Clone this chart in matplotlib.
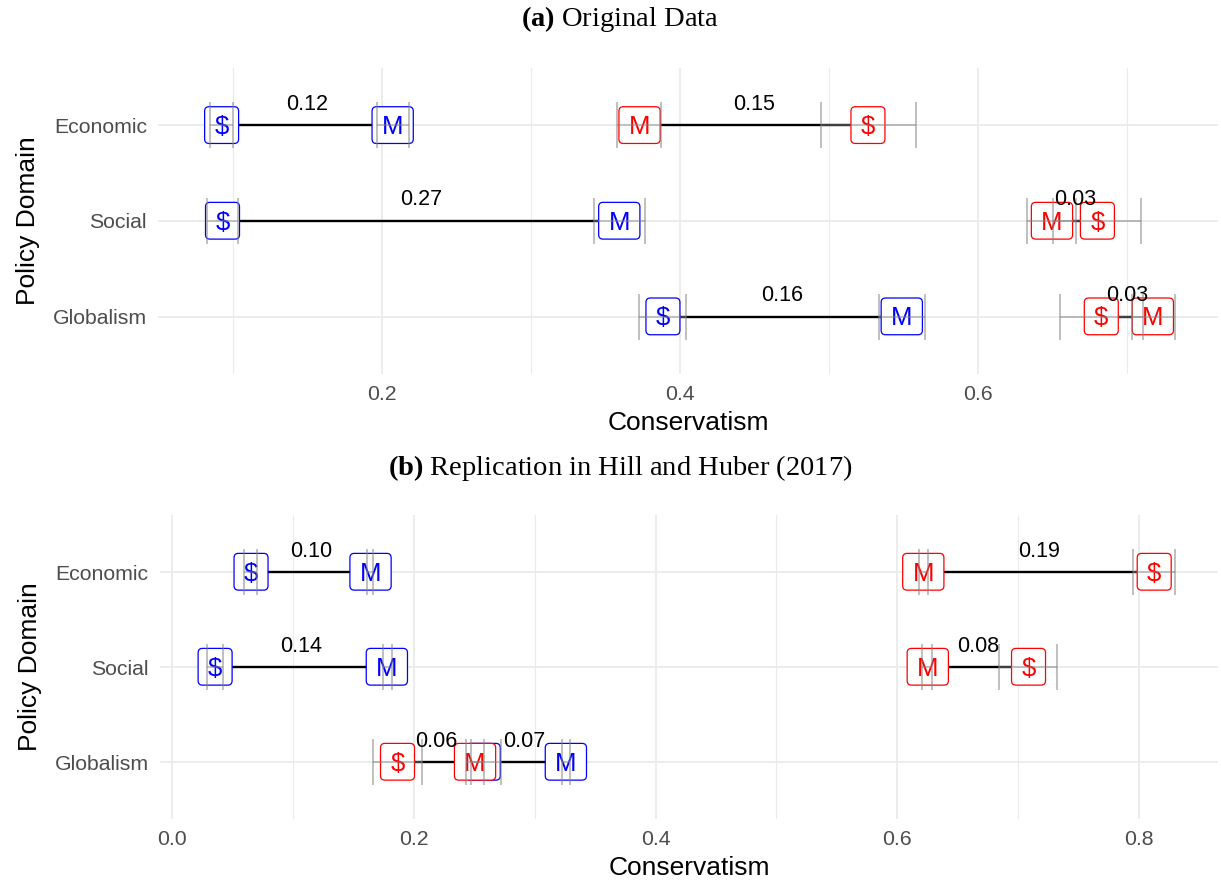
import matplotlib
matplotlib.use("Agg")
import matplotlib.pyplot as plt
from matplotlib.patches import BoxStyle
from matplotlib.transforms import offset_copy
from matplotlib.ticker import FixedLocator, FormatStrFormatter

plt.rcParams['font.family'] = ['Liberation Sans', 'DejaVu Sans']
plt.rcParams['mathtext.fontset'] = 'custom'
plt.rcParams['mathtext.rm'] = 'Liberation Serif'
plt.rcParams['mathtext.bf'] = 'Liberation Serif:bold'

domains = ["Economic", "Social", "Globalism"]

# ---- Panel (a): Original Data ----
a_blue_donor = [0.0924, 0.0930, 0.3886]
a_blue_donor_lo = [0.0846, 0.0823, 0.3728]
a_blue_donor_hi = [0.1002, 0.1035, 0.4041]
a_blue_mass = [0.2072, 0.3593, 0.5489]
a_blue_mass_lo = [0.1969, 0.3425, 0.5338]
a_blue_mass_hi = [0.2181, 0.3765, 0.5646]
a_red_mass = [0.3729, 0.6497, 0.7174]
a_red_mass_lo = [0.3579, 0.6332, 0.7034]
a_red_mass_hi = [0.3874, 0.6661, 0.7324]
a_red_donor = [0.5262, 0.6802, 0.6828]
a_red_donor_lo = [0.4945, 0.6501, 0.6550]
a_red_donor_hi = [0.5582, 0.7097, 0.7105]
a_blue_diff = ["0.12", "0.27", "0.16"]
a_red_diff = ["0.15", "0.03", "0.03"]

# ---- Panel (b): Replication in Hill and Huber (2017) ----
b_blue_donor = [0.0656, 0.0359, 0.2576]
b_blue_donor_lo = [0.0600, 0.0289, 0.2473]
b_blue_donor_hi = [0.0703, 0.0427, 0.2723]
b_blue_mass = [0.1644, 0.1779, 0.3259]
b_blue_mass_lo = [0.1617, 0.1744, 0.3224]
b_blue_mass_hi = [0.1667, 0.1819, 0.3293]
b_red_mass = [0.6214, 0.6251, 0.2508]
b_red_mass_lo = [0.6179, 0.6206, 0.2433]
b_red_mass_hi = [0.6251, 0.6289, 0.2583]
b_red_donor = [0.8123, 0.7084, 0.1867]
b_red_donor_lo = [0.7945, 0.6843, 0.1667]
b_red_donor_hi = [0.8295, 0.7317, 0.2067]
b_blue_diff = ["0.10", "0.14", "0.07"]
b_red_diff = ["0.19", "0.08", "0.06"]

a_major = [0.2, 0.4, 0.6]
a_minor = [0.1, 0.3, 0.5, 0.7]
b_major = [0.0, 0.2, 0.4, 0.6, 0.8]
b_minor = [0.1, 0.3, 0.5, 0.7]

BLUE = "#0000FF"
RED = "#FF0000"
LABEL_FS = 18.5
_round = BoxStyle.Round(pad=0, rounding_size=0.17)


def label_box(x0, y0, width, height, mutation_size):
    m = mutation_size
    px = 0.384 * m
    bottom = y0 - 0.166 * m
    top = y0 + height + 0.33 * m
    return _round(x0 - px, bottom, width + 2 * px, top - bottom, m)


def draw_panel(ax, fig, series, pairs, xlim, major, minor):
    ypos = [3 - i for i in range(len(domains))]
    # connecting segments
    for (s1, s2, diffs) in pairs:
        for i, y in enumerate(ypos):
            ax.plot([s1[2][i], s2[2][i]], [y, y], color="black", lw=1.7,
                    zorder=2, solid_capstyle="butt")
    # labels
    trans = offset_copy(ax.transData, fig=fig, y=-0.344 * LABEL_FS, units="points")
    for k, (ch, col, vals, lo, hi) in enumerate(series):
        for i, y in enumerate(ypos):
            ax.text(vals[i], y, ch, color=col, fontsize=LABEL_FS, ha="center",
                    va="baseline", transform=trans, zorder=3 + 0.1 * k,
                    bbox=dict(boxstyle=label_box, fc="white", ec=col, lw=0.9))
    # error bars
    for (ch, col, vals, lo, hi) in series:
        ax.hlines(ypos, lo, hi, color="grey", alpha=0.5, lw=1.4, zorder=4)
        ax.vlines(lo, [y - 0.24 for y in ypos], [y + 0.24 for y in ypos],
                  color="grey", alpha=0.5, lw=1.4, zorder=4)
        ax.vlines(hi, [y - 0.24 for y in ypos], [y + 0.24 for y in ypos],
                  color="grey", alpha=0.5, lw=1.4, zorder=4)
    # difference labels
    for (s1, s2, diffs) in pairs:
        for i, y in enumerate(ypos):
            ax.text((s1[2][i] + s2[2][i]) / 2, y + 0.22, diffs[i], fontsize=15.5,
                    ha="center", va="center", color="black", zorder=5)
    ax.set_xlim(*xlim)
    ax.set_ylim(0.4, 3.6)
    ax.set_yticks(ypos)
    ax.set_yticklabels(domains)
    ax.xaxis.set_major_locator(FixedLocator(major))
    ax.xaxis.set_minor_locator(FixedLocator(minor))
    ax.xaxis.set_major_formatter(FormatStrFormatter("%.1f"))
    ax.grid(True, which="major", color="#ebebeb", lw=1.3, zorder=0)
    ax.grid(True, which="minor", axis="x", color="#ebebeb", lw=0.8, zorder=0)
    ax.set_axisbelow(True)
    for sp in ax.spines.values():
        sp.set_visible(False)
    ax.tick_params(which="both", length=0, labelsize=15.3, labelcolor="#4d4d4d")
    ax.tick_params(axis="x", pad=8)
    ax.tick_params(axis="y", pad=8)
    ax.set_xlabel("Conservatism", fontsize=19, labelpad=5)
    ax.set_ylabel("Policy Domain", fontsize=19, labelpad=9)


fig = plt.figure(figsize=(12.21, 8.84), dpi=100)
ax_a = fig.add_axes([0.1294, 0.5769, 0.8681, 0.3462])
ax_b = fig.add_axes([0.1310, 0.0735, 0.8665, 0.3439])

a_series = [
    ("$", BLUE, a_blue_donor, a_blue_donor_lo, a_blue_donor_hi),
    ("M", BLUE, a_blue_mass, a_blue_mass_lo, a_blue_mass_hi),
    ("M", RED, a_red_mass, a_red_mass_lo, a_red_mass_hi),
    ("$", RED, a_red_donor, a_red_donor_lo, a_red_donor_hi),
]
a_pairs = [(a_series[0], a_series[1], a_blue_diff), (a_series[2], a_series[3], a_red_diff)]
b_series = [
    ("$", BLUE, b_blue_donor, b_blue_donor_lo, b_blue_donor_hi),
    ("M", BLUE, b_blue_mass, b_blue_mass_lo, b_blue_mass_hi),
    ("M", RED, b_red_mass, b_red_mass_lo, b_red_mass_hi),
    ("$", RED, b_red_donor, b_red_donor_lo, b_red_donor_hi),
]
b_pairs = [(b_series[0], b_series[1], b_blue_diff), (b_series[2], b_series[3], b_red_diff)]

draw_panel(ax_a, fig, a_series, a_pairs, (0.0497, 0.7611), a_major, a_minor)
draw_panel(ax_b, fig, b_series, b_pairs, (-0.0097, 0.865), b_major, b_minor)

fig.text(0.508, 0.978, r"$\mathbf{(a)}$ Original Data", fontsize=20.5,
         family="Liberation Serif", ha="center", va="center")
fig.text(0.508, 0.4706, r"$\mathbf{(b)}$ Replication in Hill and Huber (2017)",
         fontsize=20.5, family="Liberation Serif", ha="center", va="center")

fig.savefig("out.png", dpi=100)
